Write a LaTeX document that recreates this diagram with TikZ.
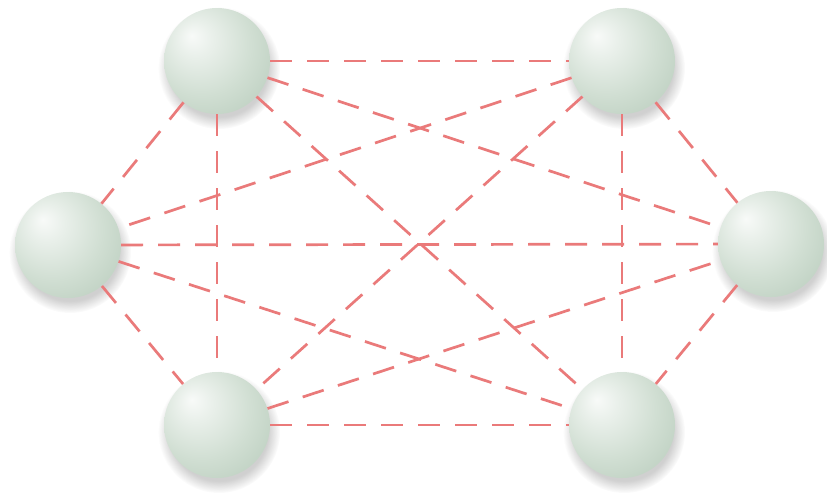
\documentclass[tikz,border=0pt]{standalone}
\usetikzlibrary{fadings}
\definecolor{linkred}{RGB}{234,122,122}
\definecolor{sphB}{RGB}{208,222,210}
\definecolor{sphC}{RGB}{182,202,186}
\definecolor{sphD}{RGB}{158,182,164}
\pgfdeclareradialshading{sphereshade}{\pgfpoint{-12bp}{12bp}}{%
  color(0bp)=(white!85!sphB);
  color(8bp)=(white!55!sphB);
  color(24bp)=(sphB);
  color(42bp)=(sphC);
  color(62bp)=(sphD)}
\tikzset{
  ball/.style={circle, minimum size=106pt, inner sep=0pt, shading=sphereshade},
  link/.style={draw=linkred, line width=2.7pt, dash pattern=on 22pt off 15pt},
  ballshadow/.style={fill=black!60, opacity=0.3, path fading=circle with fuzzy edge 20 percent}
}
\begin{document}
\begin{tikzpicture}[x=1pt,y=-1pt]
\useasboundingbox[fill=white] (0,0) rectangle (827,493);
% shadows
\foreach \p in {(217,61),(622,61),(68,245),(771,244),(217,425),(622,425)}{
  \fill[ballshadow] \p ++(2,7) circle (61);
}
% nodes
\node[ball] (tl) at (217,61) {};
\node[ball] (tr) at (622,61) {};
\node[ball] (l)  at (68,245) {};
\node[ball] (r)  at (771,244) {};
\node[ball] (bl) at (217,425) {};
\node[ball] (br) at (622,425) {};
% links
\draw[link] (tl) -- (tr);
\draw[link] (tl) -- (l);
\draw[link] (tl) -- (bl);
\draw[link] (tl) -- (r);
\draw[link] (tl) -- (br);
\draw[link] (tr) -- (l);
\draw[link] (tr) -- (bl);
\draw[link] (tr) -- (r);
\draw[link] (tr) -- (br);
\draw[link] (l) -- (r);
\draw[link] (l) -- (bl);
\draw[link] (l) -- (br);
\draw[link] (bl) -- (br);
\draw[link] (bl) -- (r);
\draw[link] (r) -- (br);
\end{tikzpicture}
\end{document}
